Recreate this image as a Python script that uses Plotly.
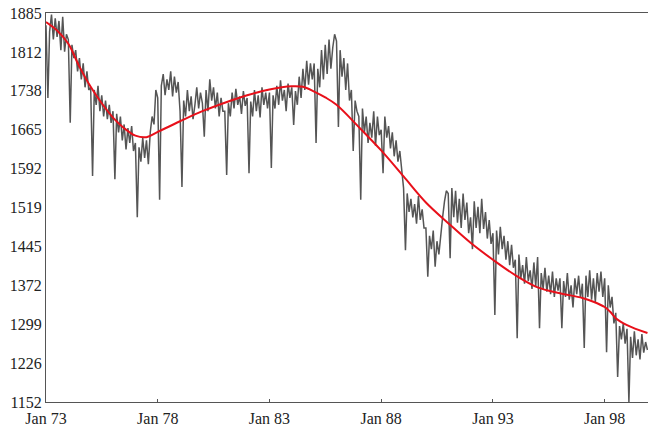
import pandas as pd
import plotly.graph_objects as go

# Monthly values, one list per year (Jan..Dec)
y1973 = [1862, 1725, 1850, 1882, 1835, 1875, 1840, 1870, 1815, 1878, 1812, 1845]
y1974 = [1835, 1678, 1825, 1800, 1815, 1775, 1800, 1760, 1790, 1745, 1775, 1740]
y1975 = [1745, 1578, 1740, 1712, 1748, 1700, 1730, 1690, 1720, 1685, 1712, 1678]
y1976 = [1700, 1572, 1695, 1660, 1690, 1645, 1675, 1628, 1668, 1640, 1672, 1625]
y1977 = [1640, 1500, 1632, 1605, 1650, 1612, 1645, 1600, 1660, 1690, 1675, 1740]
y1978 = [1725, 1533, 1748, 1770, 1730, 1760, 1740, 1775, 1728, 1765, 1735, 1755]
y1979 = [1700, 1557, 1720, 1690, 1740, 1700, 1728, 1685, 1712, 1745, 1705, 1735]
y1980 = [1715, 1652, 1740, 1700, 1760, 1720, 1745, 1705, 1735, 1690, 1725, 1700]
y1981 = [1700, 1580, 1715, 1690, 1735, 1705, 1742, 1712, 1728, 1695, 1738, 1710]
y1982 = [1725, 1583, 1718, 1690, 1740, 1700, 1730, 1688, 1745, 1712, 1735, 1705]
y1983 = [1735, 1593, 1730, 1705, 1748, 1712, 1758, 1720, 1740, 1700, 1752, 1725]
y1984 = [1745, 1674, 1738, 1712, 1765, 1725, 1780, 1740, 1795, 1750, 1790, 1760]
y1985 = [1790, 1640, 1780, 1745, 1815, 1760, 1825, 1770, 1835, 1780, 1820, 1845]
y1986 = [1832, 1670, 1815, 1765, 1800, 1740, 1790, 1720, 1740, 1625, 1720, 1700]
y1987 = [1690, 1533, 1705, 1660, 1690, 1640, 1678, 1650, 1700, 1635, 1690, 1655]
y1988 = [1665, 1583, 1690, 1650, 1672, 1630, 1660, 1615, 1645, 1605, 1625, 1590]
y1989 = [1555, 1438, 1545, 1510, 1535, 1500, 1525, 1488, 1540, 1495, 1515, 1480]
y1990 = [1480, 1388, 1465, 1440, 1475, 1407, 1455, 1430, 1470, 1500, 1530, 1550]
y1991 = [1545, 1423, 1555, 1500, 1550, 1490, 1535, 1480, 1545, 1495, 1528, 1470]
y1992 = [1500, 1440, 1530, 1480, 1520, 1470, 1535, 1478, 1510, 1460, 1495, 1450]
y1993 = [1470, 1316, 1475, 1430, 1482, 1440, 1465, 1420, 1455, 1410, 1448, 1405]
y1994 = [1420, 1272, 1430, 1385, 1410, 1375, 1425, 1380, 1400, 1365, 1415, 1370]
y1995 = [1425, 1291, 1395, 1365, 1405, 1360, 1390, 1355, 1398, 1350, 1385, 1362]
y1996 = [1385, 1291, 1380, 1350, 1395, 1345, 1372, 1330, 1385, 1355, 1390, 1348]
y1997 = [1375, 1254, 1390, 1350, 1400, 1345, 1385, 1340, 1395, 1360, 1398, 1350]
y1998 = [1385, 1246, 1372, 1330, 1350, 1300, 1320, 1199, 1295, 1270, 1300, 1262]
y1999 = [1290, 1152, 1275, 1235, 1285, 1240, 1270, 1232, 1280, 1245, 1265, 1250]

years = [y1973, y1974, y1975, y1976, y1977, y1978, y1979, y1980, y1981,
         y1982, y1983, y1984, y1985, y1986, y1987, y1988, y1989, y1990,
         y1991, y1992, y1993, y1994, y1995, y1996, y1997, y1998, y1999]
values = [v for yr in years for v in yr]
months = pd.date_range("1973-01-01", periods=len(values), freq="MS")

# Smoothed trend (red)
trend_dates = ["1973-01-01", "1973-07-01", "1974-01-01", "1974-07-01", "1975-01-01",
               "1975-07-01", "1976-01-01", "1976-07-01", "1977-01-01", "1977-07-01",
               "1978-01-01", "1979-01-01", "1980-01-01", "1981-01-01", "1982-01-01",
               "1983-01-01", "1984-01-01", "1984-07-01", "1985-01-01", "1985-07-01",
               "1986-01-01", "1987-01-01", "1988-01-01", "1989-01-01", "1990-01-01",
               "1991-01-01", "1992-01-01", "1993-01-01", "1994-01-01", "1995-01-01",
               "1996-01-01", "1997-01-01", "1997-07-01", "1998-01-01", "1998-04-01",
               "1998-07-01", "1999-01-01", "1999-12-01"]
trend_vals = [1868, 1852, 1827, 1784, 1746,
              1715, 1688, 1668, 1654, 1651,
              1661, 1681, 1700, 1716, 1730,
              1741, 1747, 1746, 1737, 1726,
              1712, 1670, 1626, 1577, 1528,
              1489, 1452, 1420, 1391, 1368,
              1357, 1348, 1341, 1331, 1322,
              1310, 1297, 1282]

y_ticks = [1152, 1225.3, 1298.6, 1371.9, 1445.2, 1518.5, 1591.8, 1665.1, 1738.4, 1811.7, 1885]
y_labels = ["1152", "1226", "1299", "1372", "1445", "1519", "1592", "1665", "1738", "1812", "1885"]
x_ticks = ["1973-01-01", "1978-01-01", "1983-01-01", "1988-01-01", "1993-01-01", "1998-01-01"]
x_labels = ["Jan 73", "Jan 78", "Jan 83", "Jan 88", "Jan 93", "Jan 98"]

fig = go.Figure()
fig.add_trace(go.Scatter(x=months, y=values, mode="lines",
                         line=dict(color="#555555", width=1.5), showlegend=False))
fig.add_trace(go.Scatter(x=trend_dates, y=trend_vals, mode="lines",
                         line=dict(color="#e8101a", width=2, shape="spline", smoothing=1.0),
                         showlegend=False))

font = dict(family="'Liberation Serif', 'Times New Roman', serif", size=16, color="#222222")
fig.update_layout(
    width=648, height=428,
    margin=dict(l=46, r=0, t=13, b=26),
    paper_bgcolor="white", plot_bgcolor="white",
    font=font,
    xaxis=dict(range=["1973-01-01", "1999-12-10"], tickvals=x_ticks, ticktext=x_labels,
               showgrid=False, zeroline=False, showline=True, linecolor="#555555",
               linewidth=1, mirror=True, ticks="inside", ticklen=3, tickcolor="#555555",
               tickfont=font, ticklabelstandoff=2, automargin=False),
    yaxis=dict(range=[1152, 1885], tickvals=y_ticks, ticktext=y_labels,
               showgrid=False, zeroline=False, showline=True, linecolor="#555555",
               linewidth=1, ticks="", tickfont=font, automargin=False),
)
fig.write_html("out.html", config={"displayModeBar": False},
               post_script="document.body.style.margin='0px';")
